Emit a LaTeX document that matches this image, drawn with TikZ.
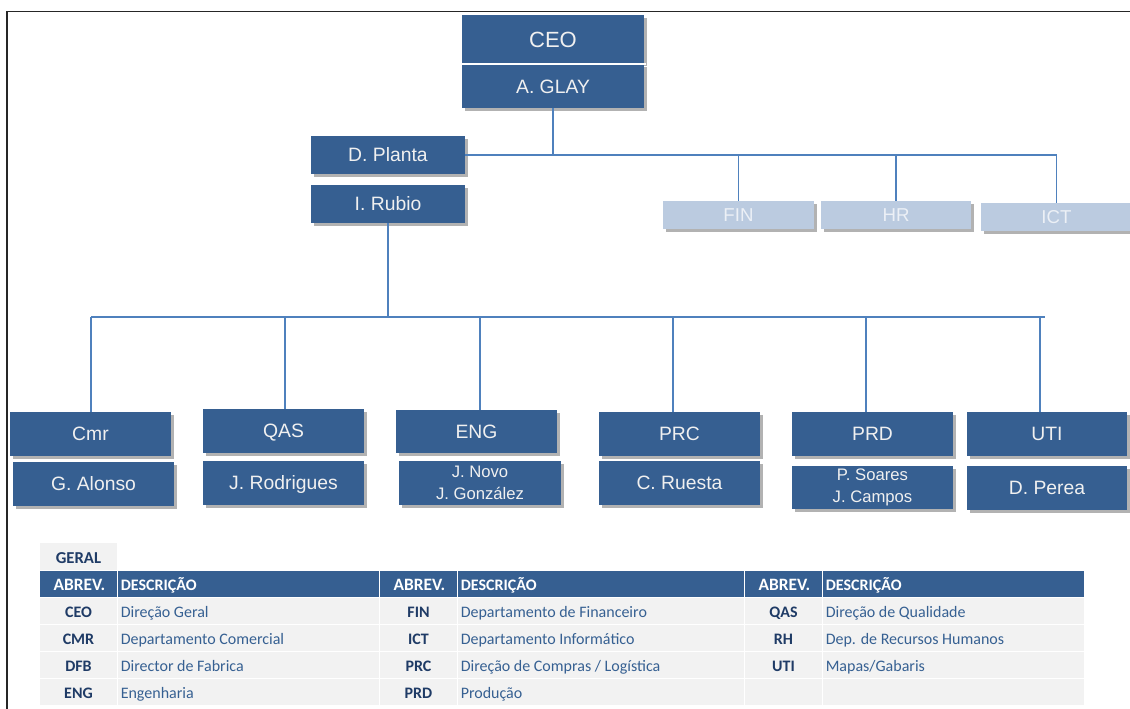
\documentclass[tikz,border=0pt]{standalone}
\usepackage{fontspec}
\setmainfont{Liberation Sans}
\newfontfamily\tabfont{Carlito}
\usetikzlibrary{shadows}

\definecolor{boxblue}{RGB}{54,95,145}
\definecolor{paleblue}{RGB}{187,203,224}
\definecolor{paletext}{RGB}{236,240,246}
\definecolor{linkblue}{RGB}{79,129,189}
\definecolor{hdrblue}{RGB}{54,95,145}
\definecolor{cellgray}{RGB}{242,242,242}
\definecolor{abvblue}{RGB}{31,59,102}
\definecolor{descblue}{RGB}{54,96,146}

\tikzset{
  sz/.style 2 args={minimum width=#1*0.75pt, minimum height=#2*0.75pt},
  unitbox/.style={rectangle, inner sep=0pt, outer sep=0pt,
    drop shadow={shadow xshift=2pt, shadow yshift=-2.2pt, fill=black, opacity=0.3}},
  orgbox/.style={unitbox, fill=boxblue, text=white!94!black},
  bigtitle/.style={font=\fontsize{16.5}{19}\selectfont, text height=11.8pt, text depth=0pt},
  title/.style={font=\fontsize{14.5}{17}\selectfont, text height=10.4pt, text depth=0pt},
  pair/.style={font=\fontsize{12.5}{16}\selectfont, align=center},
  palebox/.style={unitbox, fill=paleblue, text=paletext,
    font=\fontsize{14}{16}\selectfont, text height=10pt, text depth=0pt},
  link/.style={draw=linkblue, line width=1.1pt},
  abv/.style={font=\tabfont\bfseries\fontsize{12}{14}\selectfont, text=abvblue, anchor=base, inner sep=0pt},
  desc/.style={font=\tabfont\fontsize{12}{14}\selectfont, text=descblue, anchor=base west, inner sep=0pt},
  hdr/.style={font=\tabfont\bfseries\fontsize{12}{14}\selectfont, text=white, inner sep=0pt},
}

\begin{document}
\begin{tikzpicture}[x=0.75pt,y=-0.75pt]
\useasboundingbox (0,0) rectangle (1130,709);

% page frame
\draw[black!85, line width=1.1pt] (1130,11.5) -- (7,11.5) -- (7,709);

% top of the hierarchy
\node[orgbox, bigtitle, sz={182}{48.5}] (ceo) at (553,39.25) {CEO};
\node[orgbox, title, sz={182}{43.5}] (glay) at (553,86.25) {A. GLAY};
\draw[white, line width=0.8pt] (462,64) -- (646,64);

\node[orgbox, title, sz={154}{38}] (planta) at (388,155) {D. Planta};
\node[orgbox, title, sz={154}{38}] (rubio) at (388,204) {I. Rubio};

% support departments
\node[palebox, sz={151}{28}] (fin) at (738.5,215) {FIN};
\node[palebox, sz={150}{28}] (hr) at (896,215) {HR};
\node[palebox, sz={151}{28}] (ict) at (1056.5,217) {ICT};

% operational departments
\node[orgbox, title, sz={161}{44}] (cmr) at (90.5,434) {Cmr};
\node[orgbox, title, sz={161}{44}] (alonso) at (93.5,484) {G. Alonso};
\node[orgbox, title, sz={161}{44}] (qas) at (283.5,431) {QAS};
\node[orgbox, title, sz={161}{44}] (rodrigues) at (283.5,483) {J. Rodrigues};
\node[orgbox, title, sz={161}{43}] (eng) at (476.5,431.5) {ENG};
\node[orgbox, pair, sz={162}{44}] (novo) at (480,483) {J. Novo\\J. González};
\node[orgbox, title, sz={161}{44}] (prc) at (679.5,434) {PRC};
\node[orgbox, title, sz={161}{44}] (ruesta) at (679.5,483) {C. Ruesta};
\node[orgbox, title, sz={161}{44}] (prd) at (872.5,434) {PRD};
\node[orgbox, pair, sz={161}{43}] (soares) at (872.5,487.5) {P. Soares\\J. Campos};
\node[orgbox, title, sz={160}{44}] (uti) at (1047,434) {UTI};
\node[orgbox, title, sz={160}{44}] (perea) at (1047,488) {D. Perea};

% upper connectors
\coordinate (tophub) at (glay.south |- planta.east);
\draw[link] (glay.south) -- (tophub);
\draw[link, line width=1.4pt] (planta.east) -| (hr.north);
\draw[link] (planta.east) -| (fin.north);
\draw[link] (hr.north |- planta.east) -| (ict.north);

% lower connectors
\coordinate (busW) at (91,317);
\coordinate (busE) at (1045,317);
\draw[link] (rubio.south) -- (rubio.south |- busW);
\draw[link] (busW) -- (busE);
\coordinate (dcmr) at (91,317);
\coordinate (dqas) at (285,317);
\coordinate (deng) at (480,317);
\coordinate (dprc) at (673,317);
\coordinate (dprd) at (866,317);
\coordinate (duti) at (1040,317);
\draw[link] (dcmr) -- (dcmr |- cmr.north);
\draw[link] (dqas) -- (dqas |- qas.north);
\draw[link] (deng) -- (deng |- eng.north);
\draw[link] (dprc) -- (dprc |- prc.north);
\draw[link] (dprd) -- (dprd |- prd.north);
\draw[link] (duti) -- (duti |- uti.north);

% abbreviation table
\fill[cellgray] (40,543) rectangle (117,570);
\foreach \l/\r in {40/117,118/379,380/457,458/744,745/822,823/1084} {
  \fill[hdrblue] (\l,571) rectangle (\r,597);
  \foreach \t/\b in {598/624,625/651,652/678,679/705}
    \fill[cellgray] (\l,\t) rectangle (\r,\b);
}

\node[abv, font=\tabfont\bfseries\fontsize{12.5}{14}\selectfont] (geral) at (78.5,563) {GERAL};

\node[hdr, anchor=base, font=\tabfont\bfseries\fontsize{13}{14}\selectfont] (ha1) at (79.5,590.5) {ABREV.};
\node[hdr, anchor=base west] (hd1) at (120.5,590.5) {DESCRIÇÃO};
\node[hdr, anchor=base, font=\tabfont\bfseries\fontsize{13}{14}\selectfont] (ha2) at (419.5,590.5) {ABREV.};
\node[hdr, anchor=base west] (hd2) at (460.5,590.5) {DESCRIÇÃO};
\node[hdr, anchor=base, font=\tabfont\bfseries\fontsize{13}{14}\selectfont] (ha3) at (784.5,590.5) {ABREV.};
\node[hdr, anchor=base west] (hd3) at (825.5,590.5) {DESCRIÇÃO};

\node[abv] (a11) at (78.5,617.5) {CEO};
\node[desc] (d11) at (120.5,617.5) {Direção Geral};
\node[abv] (a12) at (78.5,644.5) {CMR};
\node[desc] (d12) at (120.5,644.5) {Departamento Comercial};
\node[abv] (a13) at (78.5,671.5) {DFB};
\node[desc] (d13) at (120.5,671.5) {Director de Fabrica};
\node[abv] (a14) at (78.5,698.5) {ENG};
\node[desc] (d14) at (120.5,698.5) {Engenharia};

\node[abv] (a21) at (418.5,617.5) {FIN};
\node[desc] (d21) at (460.5,617.5) {Departamento de Financeiro};
\node[abv] (a22) at (418.5,644.5) {ICT};
\node[desc] (d22) at (460.5,644.5) {Departamento Informático};
\node[abv] (a23) at (418.5,671.5) {PRC};
\node[desc] (d23) at (460.5,671.5) {Direção de Compras / Logística};
\node[abv] (a24) at (418.5,698.5) {PRD};
\node[desc] (d24) at (460.5,698.5) {Produção};

\node[abv] (a31) at (783.5,617.5) {QAS};
\node[desc] (d31) at (825.5,617.5) {Direção de Qualidade};
\node[abv] (a32) at (783.5,644.5) {RH};
\node[desc] (d32) at (825.5,644.5) {Dep. de Recursos Humanos};
\node[abv] (a33) at (783.5,671.5) {UTI};
\node[desc] (d33) at (825.5,671.5) {Mapas/Gabaris};
\end{tikzpicture}
\end{document}
